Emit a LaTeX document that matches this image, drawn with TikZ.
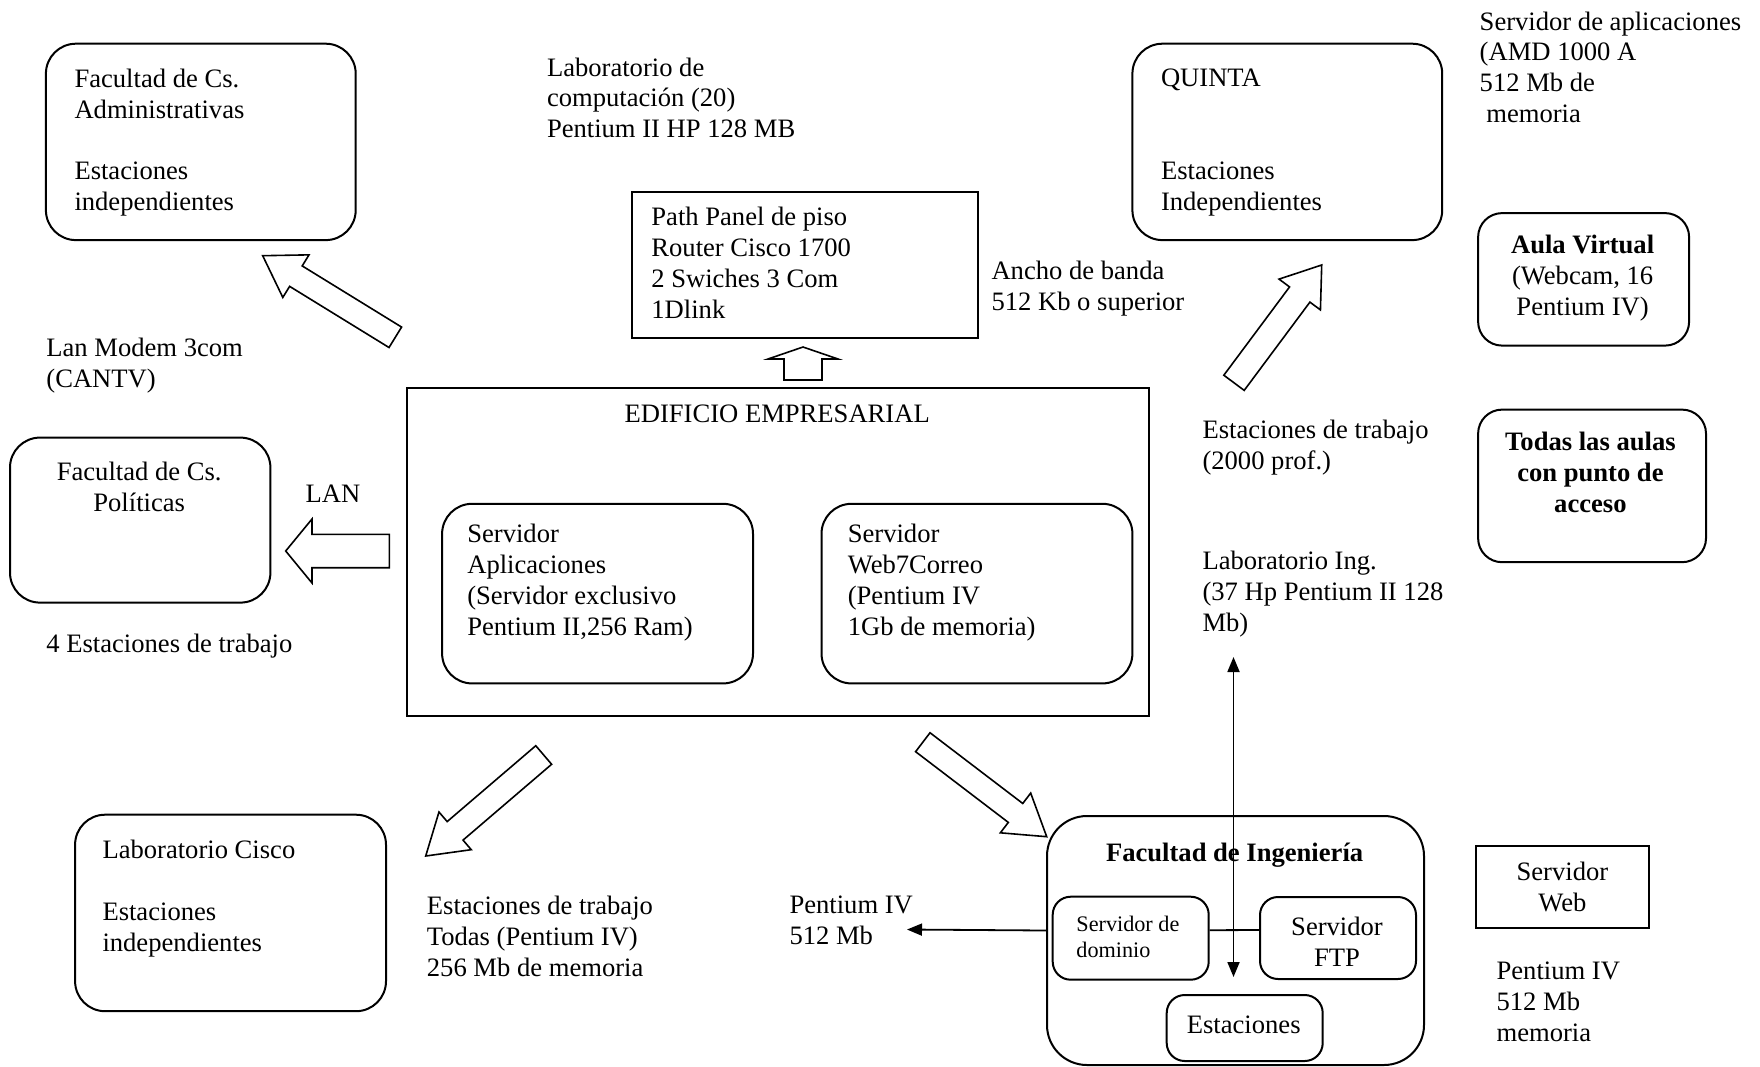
\documentclass[tikz,border=0pt]{standalone}
\usepackage{fontspec}
\setmainfont{Liberation Serif}
\usetikzlibrary{calc,arrows.meta}
\newcommand\fsn{\fontsize{13.3}{15.45}\selectfont}
\newcommand\fss{\fontsize{11.1}{12.85}\selectfont}
\newcommand\blockarr[5]{%
  \coordinate (#1-h) at ($(#2)!#5!(#1)$);
  \draw[barrow] ($(#1)!#3!90:(#2)$) -- ($(#1-h)!#3!90:(#2)$) -- ($(#1-h)!#4!90:(#2)$) -- (#2)
    -- ($(#1-h)!#4!-90:(#2)$) -- ($(#1-h)!#3!-90:(#2)$) -- ($(#1)!#3!-90:(#2)$) -- cycle;}
\begin{document}
\begin{tikzpicture}[x=0.5pt,y=-0.5pt,
  box/.style={draw, line width=1pt, inner sep=0pt, anchor=north west},
  rbox/.style={box, rounded corners=15pt},
  txt/.style={inner sep=0pt, anchor=north west, align=left, font=\fsn},
  ctxt/.style={inner sep=0pt, anchor=north, align=center, font=\fsn},
  barrow/.style={draw, line width=0.8pt, fill=white, line join=miter},
  conn/.style={line width=0.9pt},
  tip/.style={-{Triangle[length=7.5pt,width=6pt]}},
  dtip/.style={{Triangle[length=7.5pt,width=6pt]}-{Triangle[length=7.5pt,width=6pt]}}]
\useasboundingbox[fill=white] (0,0) rectangle (1760,1066);

% ---- top left
\node[rbox, minimum width=154.9pt, minimum height=98.2pt] (admbox) at (44.9,42.7) {};
\node[txt] (admtxt) at (74.1,68.4) {Facultad de Cs.\\Administrativas\\[15.45pt]Estaciones\\independientes};

\node[txt] (labcomp) at (546.6,57.2) {Laboratorio de\\computación (20)\\Pentium II HP 128 MB};

\node[box, minimum width=172.85pt, minimum height=72.95pt] (panel) at (630.8,190.8) {};
\node[txt] (paneltxt) at (651,206.5) {Path Panel de piso\\Router Cisco 1700\\2 Swiches 3 Com\\1Dlink};

\node[txt] (ancho) at (991.1,260.4) {Ancho de banda\\512 Kb o superior};

% ---- top right
\node[rbox, minimum width=154.9pt, minimum height=98.2pt] (quintabox) at (1131.4,42.7) {};
\node[txt] (quintatxt) at (1160.6,68.4) {QUINTA\\[30.9pt]Estaciones\\Independientes};

\node[txt] (servapp) at (1479.3,11.2) {Servidor de aplicaciones\\(AMD 1000 A\\512 Mb de\\\hspace*{0.25em}memoria};

\node[rbox, rounded corners=12pt, minimum width=105.5pt, minimum height=66.25pt] (aulabox) at (1477.1,212.1) {};
\node[ctxt] (aulatxt) at (1582.6,234.5) {\textbf{Aula Virtual}\\(Webcam, 16\\Pentium IV)};

\node[rbox, rounded corners=12pt, minimum width=113.95pt, minimum height=76.3pt] (todasbox) at (1477.1,408.6) {};
\node[ctxt, font=\fsn\bfseries] (todastxt) at (1590.4,432.1) {Todas las aulas\\con punto de\\acceso};

% ---- left side
\node[txt] (lanmodem) at (46,337.8) {Lan Modem 3com\\(CANTV)};

\node[rbox, minimum width=130.2pt, minimum height=82.5pt] (polbox) at (9,436.6) {};
\node[ctxt] (poltxt) at (139.2,461.3) {Facultad de Cs.\\Políticas};
\node[txt] (lan) at (305.3,484.8) {LAN};
\node[txt] (cuatro) at (46,634.1) {4 Estaciones de trabajo};

% ---- center building
\node[box, minimum width=370.95pt, minimum height=163.9pt] (edif) at (406.3,387.2) {};
\node[ctxt] (ediftxt) at (777.2,404) {EDIFICIO EMPRESARIAL};
\node[rbox, minimum width=155.45pt, minimum height=89.8pt] (sappbox) at (441.1,502.8) {};
\node[txt] (sapptxt) at (466.9,524.1) {Servidor\\Aplicaciones\\(Servidor exclusivo\\Pentium II,256 Ram)};
\node[rbox, minimum width=155.45pt, minimum height=89.8pt] (swebbox) at (820.5,502.8) {};
\node[txt] (swebtxt) at (847.4,524.1) {Servidor\\Web7Correo\\(Pentium IV\\1Gb de memoria)};

% ---- right middle texts
\node[txt] (esttrab) at (1202.1,419.7) {Estaciones de trabajo\\(2000 prof.)};
\node[txt] (labing) at (1202.1,551) {Laboratorio Ing.\\(37 Hp Pentium II 128\\Mb)};

% ---- bottom left
\node[rbox, minimum width=155.45pt, minimum height=98.25pt] (ciscobox) at (74.1,813.7) {};
\node[txt] (ciscotxt) at (102.1,839.5) {Laboratorio Cisco\\[15.45pt]Estaciones\\independientes};
\node[txt] (esttodas) at (426.5,895.6) {Estaciones de trabajo\\Todas (Pentium IV)\\256 Mb de memoria};
\node[txt] (pent512) at (789.1,895.6) {Pentium IV\\512 Mb};

% ---- Facultad de Ingenieria
\node[rbox, rounded corners=20pt, minimum width=188.5pt, minimum height=124.5pt] (ingbox) at (1046,815) {};
\node[ctxt, font=\fsn\bfseries] (ingtxt) at (1234.6,842.9) {Facultad de Ingeniería};
\node[rbox, rounded corners=9pt, minimum width=78pt, minimum height=41.5pt] (dombox) at (1051.7,895.7) {};
\node[txt, font=\fss] (domtxt) at (1076,916) {Servidor de\\dominio};
\node[rbox, rounded corners=9pt, minimum width=78pt, minimum height=41pt] (ftpbox) at (1259,896) {};
\node[ctxt] (ftptxt) at (1337,916.3) {Servidor\\FTP};
\node[rbox, rounded corners=9pt, minimum width=78pt, minimum height=33pt] (estbox) at (1165.7,994) {};
\node[inner sep=0pt, font=\fsn] (esttxt) at (1243.7,1025) {Estaciones};

% ---- Servidor Web
\node[box, anchor=center, minimum width=86.4pt, minimum height=40.95pt, align=center, font=\fsn] (swbox) at (1562.4,887.3) {Servidor\\Web};
\node[txt] (swtxt) at (1496.2,961.9) {Pentium IV\\512 Mb\\memoria};

% ---- connectors
\draw[conn] ([yshift=4pt]dombox.east) -- ([yshift=4pt]ftpbox.west);
\coordinate (pend) at (907,929.5);
\draw[conn, tip] ([yshift=5pt]ingbox.west) -- (pend);
\coordinate (vtop) at (1233.5,657);
\coordinate (vbot) at (1233.5,977);
\draw[conn, dtip] (vbot) -- (vtop);

% ---- block arrows
\coordinate (a1t) at (395.3,337.3); \coordinate (a1p) at (262.7,255.7);
\blockarr{a1t}{a1p}{6pt}{12.5pt}{19.5pt}
\coordinate (a2t) at (1234,382.8); \coordinate (a2p) at (1321.7,265);
\blockarr{a2t}{a2p}{6.35pt}{12.9pt}{18.4pt}
\coordinate (a3t) at (543.7,755); \coordinate (a3p) at (425.7,856);
\blockarr{a3t}{a3p}{6.1pt}{12.4pt}{19.35pt}
\coordinate (a4t) at (922.8,742.2); \coordinate (a4p) at (1046.7,836.7);
\blockarr{a4t}{a4p}{5.95pt}{12.5pt}{19.6pt}
\coordinate (a5t) at (389.3,551); \coordinate (a5p) at (285.7,551);
\blockarr{a5t}{a5p}{8.35pt}{16pt}{13.15pt}
\coordinate (a6t) at (803,380); \coordinate (a6p) at (803,347);
\blockarr{a6t}{a6p}{9.5pt}{17.5pt}{6pt}
\end{tikzpicture}
\end{document}
